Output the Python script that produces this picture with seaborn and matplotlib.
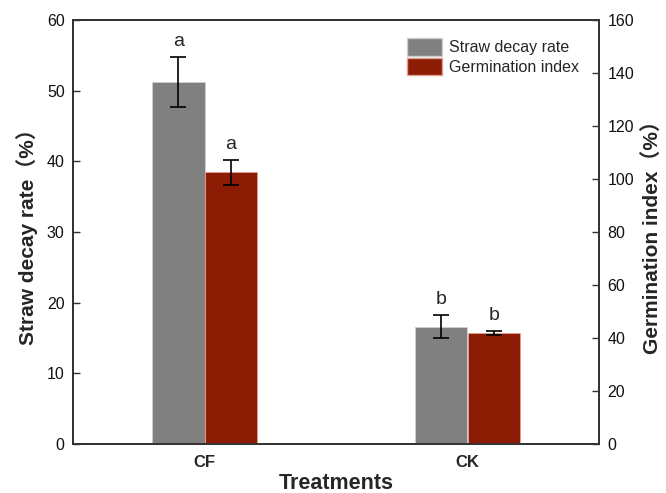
import numpy as np
import pandas as pd
import matplotlib
matplotlib.use("Agg")
import matplotlib.pyplot as plt
import seaborn as sns
from matplotlib.patches import Patch

treatments = ["CF", "CK"]
series = ["Straw decay rate", "Germination index"]
decay_mean = [51.2, 16.6]
decay_err = [3.5, 1.6]
germ_mean = [102.5, 41.8]
germ_err = [4.6, 0.8]
decay_letters = ["a", "b"]
germ_letters = ["a", "b"]
left_ticks = [0, 10, 20, 30, 40, 50, 60]
right_ticks = [0, 20, 40, 60, 80, 100, 120, 140, 160]

sns.set_theme(style="white")
plt.rcParams["font.family"] = ["Liberation Sans", "DejaVu Sans"]

gray = "#808080"
red = "#8C1C03"
palette = {series[0]: gray, series[1]: red}

fig = plt.figure(figsize=(6.66, 4.93), dpi=100)
ax = fig.add_axes([73/666, 49/493, 526/666, 424/493])
ax2 = ax.twinx()

df1 = pd.DataFrame({"Treatment": treatments, "value": decay_mean, "series": series[0]})
df2 = pd.DataFrame({"Treatment": treatments, "value": germ_mean, "series": series[1]})

sns.barplot(data=df1, x="Treatment", y="value", hue="series", hue_order=series,
            palette=palette, width=0.4, dodge=True, saturation=1, ax=ax,
            errorbar=None, legend=False, linewidth=0.6, edgecolor="#d0d0d0")
sns.barplot(data=df2, x="Treatment", y="value", hue="series", hue_order=series,
            palette=palette, width=0.4, dodge=True, saturation=1, ax=ax2,
            errorbar=None, legend=False, linewidth=0.6, edgecolor="#e0a090")

def centers(a):
    ps = [p for p in a.patches if p.get_height() > 0]
    ps.sort(key=lambda p: p.get_x())
    return [p.get_x() + p.get_width() / 2 for p in ps]

c1 = centers(ax)
c2 = centers(ax2)
ax.errorbar(c1, decay_mean, yerr=decay_err, fmt="none", ecolor="black",
            elinewidth=1.2, capsize=6, capthick=1.2)
ax2.errorbar(c2, germ_mean, yerr=germ_err, fmt="none", ecolor="black",
             elinewidth=1.2, capsize=6, capthick=1.2)
for x, m, e, t in zip(c1, decay_mean, decay_err, decay_letters):
    ax.text(x, m + e + 1.0, t, ha="center", va="bottom", fontsize=14)
for x, m, e, t in zip(c2, germ_mean, germ_err, germ_letters):
    ax2.text(x, m + e + 2.7, t, ha="center", va="bottom", fontsize=14)

ax.set_xlim(-0.5, 1.5)
ax.set_ylim(0, 60)
ax2.set_ylim(0, 160)
ax.set_yticks(left_ticks)
ax2.set_yticks(right_ticks)

ax.set_xlabel("Treatments", fontsize=15.5, fontweight="bold", labelpad=2)
ax.set_ylabel("Straw decay rate（%）", fontsize=15, fontweight="bold",
              family=["Liberation Sans", "Noto Sans CJK SC"], labelpad=6)
ax2.set_ylabel("Germination index（%）", fontsize=15, fontweight="bold",
               family=["Liberation Sans", "Noto Sans CJK SC"], labelpad=6)

ax.tick_params(axis="y", direction="in", length=5, width=1, labelsize=11.5,
               colors="#333333", labelcolor="#111111", pad=6)
ax2.tick_params(axis="y", direction="in", length=5, width=1, labelsize=11.5,
                colors="#333333", labelcolor="#111111", pad=6)
ax.tick_params(axis="x", length=0, labelsize=12, pad=8)
for lab in ax.get_xticklabels():
    lab.set_fontweight("bold")

for a in (ax, ax2):
    for s in a.spines.values():
        s.set_color("#333333")
        s.set_linewidth(1.3)

handles = [Patch(facecolor=gray, edgecolor="#d0d0d0", label=series[0]),
           Patch(facecolor=red, edgecolor="#e0a090", label=series[1])]
ax2.legend(handles=handles, loc="upper left", bbox_to_anchor=(0.635, 0.957),
           frameon=False, fontsize=11.5, handlelength=2.2, handleheight=1.3,
           handletextpad=0.4, labelspacing=0.15, borderaxespad=0, borderpad=0)

fig.savefig("out.png", dpi=100)
